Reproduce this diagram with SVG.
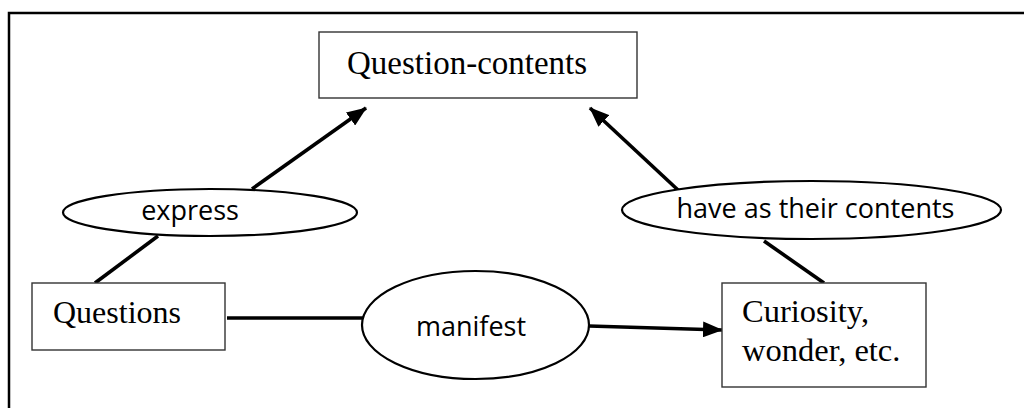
<svg xmlns="http://www.w3.org/2000/svg" width="1024" height="408" viewBox="0 0 1024 408">
<style>
.box{fill:#fff;stroke:#333;stroke-width:1.4}
.ell{fill:#fff;stroke:#000;stroke-width:2.2}
.serif{font-family:"Liberation Serif","Times New Roman",serif;font-size:32px;fill:#000}
.sans{font-family:"Open Sans","Liberation Sans",sans-serif;font-size:27px;fill:#000}
.conn{stroke:#000;stroke-width:3.6;fill:none}
</style>
<defs>
<marker id="arr" viewBox="0 0 20 16" refX="19" refY="8" markerWidth="20" markerHeight="16" markerUnits="userSpaceOnUse" orient="auto">
<path d="M0,0 L20,8 L0,16 Z" fill="#000"/>
</marker>
</defs>
<rect width="1024" height="408" fill="#fff"/>
<path d="M9,408 V13 H1024" fill="none" stroke="#000" stroke-width="2.5"/>
<g id="connectors">
<line class="conn" x1="252" y1="189" x2="366" y2="108" marker-end="url(#arr)"/>
<line class="conn" x1="158" y1="236" x2="95" y2="283"/>
<line class="conn" x1="678" y1="190" x2="590" y2="108" marker-end="url(#arr)"/>
<line class="conn" x1="764" y1="241" x2="824" y2="283"/>
<line class="conn" x1="227" y1="318" x2="363" y2="318"/>
<line class="conn" x1="589" y1="326" x2="722" y2="330" marker-end="url(#arr)"/>
</g>
<g id="question-contents">
<rect class="box" x="319" y="32" width="318" height="66"/>
<text class="serif" x="347" y="74" style="font-size:33px">Question-contents</text>
</g>
<g id="express">
<ellipse class="ell" cx="210" cy="212.5" rx="147" ry="23.5"/>
<text class="sans" x="190" y="220" text-anchor="middle">express</text>
</g>
<g id="have-as-their-contents">
<ellipse class="ell" cx="811.5" cy="210" rx="189.5" ry="29"/>
<text class="sans" x="815.5" y="218" text-anchor="middle">have as their contents</text>
</g>
<g id="questions">
<rect class="box" x="32" y="283" width="193" height="67"/>
<text class="serif" x="53" y="323">Questions</text>
</g>
<g id="manifest">
<ellipse class="ell" cx="475.5" cy="325" rx="113.5" ry="54"/>
<text class="sans" x="471" y="336" text-anchor="middle">manifest</text>
</g>
<g id="curiosity">
<rect class="box" x="722" y="283" width="204" height="104"/>
<text class="serif" x="742" y="322" style="font-size:32.5px">Curiosity,</text>
<text class="serif" x="742" y="361" style="font-size:32.5px">wonder, etc.</text>
</g>
</svg>
